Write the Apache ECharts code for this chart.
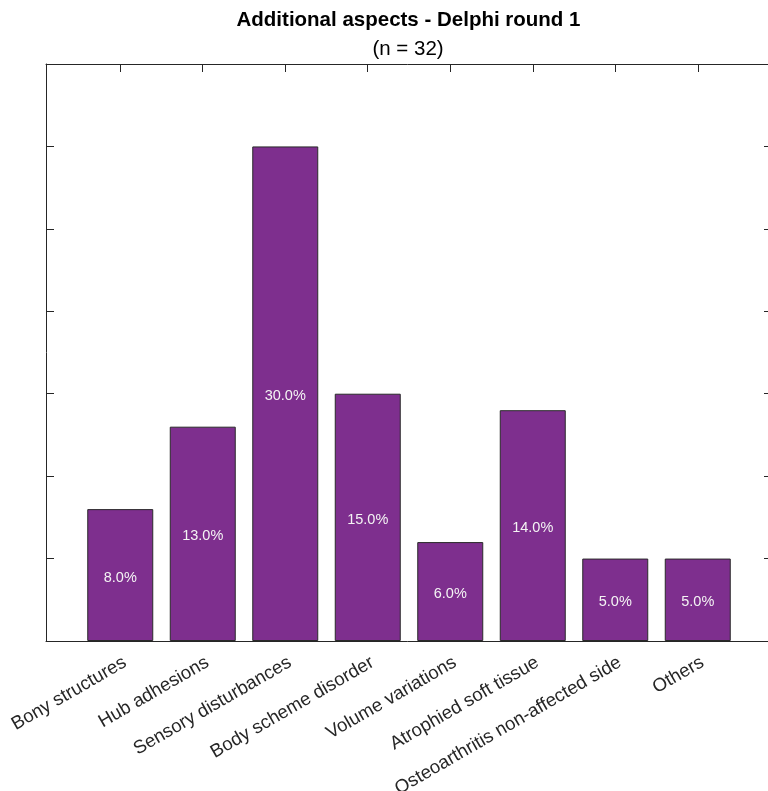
<!DOCTYPE html>
<html>
<head>
<meta charset="utf-8">
<script src="https://cdn.jsdelivr.net/npm/echarts@6/dist/echarts.min.js"></script>
<style>html,body{margin:0;padding:0;background:#fff;}#chart{width:768px;height:791px;}</style>
</head>
<body>
<div id="chart"></div>
<script>
const titleText = 'Additional aspects - Delphi round 1';
const subtitleText = '(n = 32)';
const categories = ['Bony structures', 'Hub adhesions', 'Sensory disturbances', 'Body scheme disorder', 'Volume variations', 'Atrophied soft tissue', 'Osteoarthritis non-affected side', 'Others'];
const values = [8, 13, 30, 15, 6, 14, 5, 5];
const yTicks = [0, 5, 10, 15, 20, 25, 30, 35];
const xPositions = [1, 2, 3, 4, 5, 6, 7, 8];

const axisColor = '#262626';
const chart = echarts.init(document.getElementById('chart'), null, {renderer: 'canvas'});
const xAxisBase = {
  type: 'value', min: 0.1, max: 8.9,
  axisLine: {show: true, onZero: false, lineStyle: {color: axisColor, width: 1}},
  axisTick: {show: true, inside: true, length: 8, customValues: xPositions, lineStyle: {color: axisColor}},
  splitLine: {show: false}
};
const yAxisBase = {
  type: 'value', min: 0, max: 35, interval: 5,
  axisLine: {show: true, onZero: false, lineStyle: {color: axisColor, width: 1}},
  axisTick: {show: true, inside: true, length: 8, customValues: yTicks, lineStyle: {color: axisColor}},
  axisLabel: {show: false},
  splitLine: {show: false}
};
chart.setOption({
  animation: false,
  backgroundColor: '#ffffff',
  graphic: [
    {type: 'text', x: 408.5, y: 20.5, style: {text: titleText, textAlign: 'center', textVerticalAlign: 'middle',
      font: 'bold 20.5px "Liberation Sans"', fill: '#000'}},
    {type: 'text', x: 408, y: 49.5, style: {text: subtitleText, textAlign: 'center', textVerticalAlign: 'middle',
      font: 'normal 20.5px "Liberation Sans"', fill: '#000'}}
  ],
  grid: {left: 46, top: 64, width: 726, height: 577, outerBoundsMode: 'none', containLabel: false},
  xAxis: [
    Object.assign({}, xAxisBase, {position: 'bottom',
      axisLabel: {show: true, customValues: xPositions, rotate: 30, margin: 12, verticalAlign: 'top',
        fontFamily: 'Liberation Sans', fontSize: 18.6, color: axisColor,
        formatter: v => categories[Math.round(v) - 1] || ''}}),
    Object.assign({}, xAxisBase, {position: 'top', axisLabel: {show: false}})
  ],
  yAxis: [
    Object.assign({}, yAxisBase, {position: 'left'}),
    Object.assign({}, yAxisBase, {position: 'right'})
  ],
  series: [{
    type: 'bar',
    xAxisIndex: 0, yAxisIndex: 0,
    barWidth: 66,
    data: categories.map((c, i) => [xPositions[i], values[i]]),
    itemStyle: {color: '#7E2F8E', borderColor: '#2a2a2a', borderWidth: 1},
    label: {show: true, position: 'inside', offset: [0, 2.5], color: '#f4f4f4', fontFamily: 'Liberation Sans', fontSize: 14.5,
      formatter: p => p.value[1].toFixed(1) + '%'}
  }]
});
</script>
</body>
</html>
